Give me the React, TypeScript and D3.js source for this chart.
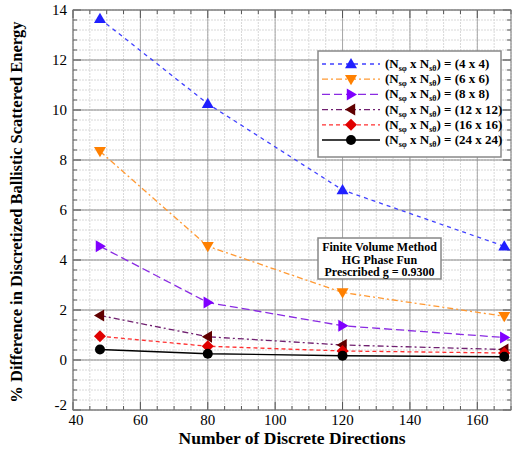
import React from "react";
import * as d3 from "d3";

const directions = [48, 80, 120, 168];
const s4 = [13.65, 10.25, 6.8, 4.55];
const s6 = [8.35, 4.55, 2.7, 1.75];
const s8 = [4.55, 2.3, 1.37, 0.9];
const s12 = [1.78, 0.93, 0.6, 0.42];
const s16 = [0.95, 0.55, 0.36, 0.28];
const s24 = [0.42, 0.25, 0.17, 0.13];
const legendSizes = ["4 x 4", "6 x 6", "8 x 8", "12 x 12", "16 x 16", "24 x 24"];
const xTicks = [40, 60, 80, 100, 120, 140, 160];
const yTicks = [-2, 0, 2, 4, 6, 8, 10, 12, 14];
const noteLines = ["Finite Volume Method", "HG Phase Fun", "Prescribed g = 0.9300"];

const series = [
  { values: s4, line: "#4040ff", marker: "#2020ff", dash: "4,4", shape: "up" },
  { values: s6, line: "#ff9933", marker: "#ff8000", dash: "6,3,2,3", shape: "down" },
  { values: s8, line: "#8a2be2", marker: "#8000ff", dash: "8,4", shape: "right" },
  { values: s12, line: "#702070", marker: "#600000", dash: "6,3,2,3", shape: "left" },
  { values: s16, line: "#ff3030", marker: "#e00000", dash: "4,3", shape: "diamond" },
  { values: s24, line: "#000000", marker: "#000000", dash: "", shape: "circle" },
];

const font = '"Liberation Serif", Tinos, "Times New Roman", "DejaVu Serif", serif';

function Marker({ shape, x, y, color }: { shape: string; x: number; y: number; color: string }) {
  const r = 6;
  let d = "";
  if (shape === "circle") return <circle cx={x} cy={y} r={5} fill={color} />;
  if (shape === "up") d = `M${x},${y - r} L${x + r},${y + r * 0.7} L${x - r},${y + r * 0.7}Z`;
  if (shape === "down") d = `M${x},${y + r} L${x + r},${y - r * 0.7} L${x - r},${y - r * 0.7}Z`;
  if (shape === "right") d = `M${x + r},${y} L${x - r * 0.7},${y - r} L${x - r * 0.7},${y + r}Z`;
  if (shape === "left") d = `M${x - r},${y} L${x + r * 0.7},${y - r} L${x + r * 0.7},${y + r}Z`;
  if (shape === "diamond") d = `M${x},${y - r} L${x + r},${y} L${x},${y + r} L${x - r},${y}Z`;
  return <path d={d} fill={color} />;
}

export default function App() {
  const W = 514, H = 454;
  const left = 73, right = 511, top = 10, bottom = 410;
  const x = d3.scaleLinear().domain([40, 170]).range([left, right]);
  const y = d3.scaleLinear().domain([-2, 14]).range([bottom, top]);
  const line = d3.line<number>().x((_, i) => x(directions[i])).y((v) => y(v));

  const xMinor = d3.range(40, 171, 5);
  const yMinor = d3.range(-2, 14.01, 0.4);

  const legX = 318, legY = 51, legW = 183, legH = 106;
  const rowH = 15.2;

  return (
    <svg width={W} height={H} style={{ position: "absolute", left: 0, top: 0, background: "#fff", fontFamily: font }}>
      {xMinor.map((v) => (
        <line key={"xm" + v} x1={x(v)} x2={x(v)} y1={top} y2={bottom} stroke="#d8d8d8" strokeWidth={1} strokeDasharray="2,1" />
      ))}
      {yMinor.map((v, i) => (
        <line key={"ym" + i} x1={left} x2={right} y1={y(v)} y2={y(v)} stroke="#d8d8d8" strokeWidth={1} strokeDasharray="2,1" />
      ))}
      {xTicks.map((v) => (
        <line key={"xM" + v} x1={x(v)} x2={x(v)} y1={top} y2={bottom} stroke="#a8a8a8" strokeWidth={1} />
      ))}
      {yTicks.map((v) => (
        <line key={"yM" + v} x1={left} x2={right} y1={y(v)} y2={y(v)} stroke="#8c8c8c" strokeWidth={1} />
      ))}
      {xMinor.map((v) => (
        <g key={"xt" + v}>
          <line x1={x(v)} x2={x(v)} y1={bottom} y2={bottom - (v % 20 === 0 ? 8 : 4)} stroke="#555" />
          <line x1={x(v)} x2={x(v)} y1={top} y2={top + (v % 20 === 0 ? 8 : 4)} stroke="#555" />
        </g>
      ))}
      {yMinor.map((v, i) => (
        <g key={"yt" + i}>
          <line x1={left} x2={left + (i % 5 === 0 ? 8 : 4)} y1={y(v)} y2={y(v)} stroke="#555" />
          <line x1={right} x2={right - (i % 5 === 0 ? 8 : 4)} y1={y(v)} y2={y(v)} stroke="#555" />
        </g>
      ))}
      <rect x={left} y={top} width={right - left} height={bottom - top} fill="none" stroke="#777" strokeWidth={1} />

      {xTicks.map((v) => (
        <text key={"xl" + v} x={x(v) + (v === 40 ? 3 : 0)} y={bottom + 15} textAnchor="middle" fontSize={15}>
          {v}
        </text>
      ))}
      {yTicks.map((v) => (
        <text key={"yl" + v} x={left - 6} y={y(v) + (v === -2 ? 0 : 5)} textAnchor="end" fontSize={15}>
          {v}
        </text>
      ))}

      <text x={292} y={444} textAnchor="middle" fontSize={17.5} fontWeight="bold">
        Number of Discrete Directions
      </text>
      <text transform={`translate(22,212) rotate(-90)`} textAnchor="middle" fontSize={16.5} fontWeight="bold">
        % Difference in Discretized Ballistic Scattered Energy
      </text>

      {series.map((s, si) => (
        <g key={"s" + si}>
          <path d={line(s.values) || ""} fill="none" stroke={s.line} strokeWidth={1.3} strokeDasharray={s.dash} />
          {s.values.map((v, i) => (
            <Marker key={i} shape={s.shape} x={x(directions[i])} y={y(v)} color={s.marker} />
          ))}
        </g>
      ))}

      <rect x={legX} y={legY} width={legW} height={legH} fill="#fff" stroke="#888" strokeWidth={1.5} />
      {series.map((s, i) => {
        const cy = legY + 13 + i * rowH;
        return (
          <g key={"lg" + i}>
            <line x1={legX + 4} x2={legX + 62} y1={cy} y2={cy} stroke={s.line} strokeWidth={1.3} strokeDasharray={s.dash} />
            <Marker shape={s.shape} x={legX + 33} y={cy} color={s.marker} />
            <text x={legX + 67} y={cy + 4} fontSize={13} fontWeight="bold">
              (N<tspan fontSize={8} dy={3}>sφ</tspan>
              <tspan dy={-3}> x N</tspan>
              <tspan fontSize={8} dy={3}>sθ</tspan>
              <tspan dy={-3}>{`) = (${legendSizes[i]})`}</tspan>
            </text>
          </g>
        );
      })}

      <rect x={318} y={238} width={123} height={41} fill="#fff" stroke="#888" strokeWidth={1.5} />
      {noteLines.map((t, i) => (
        <text key={"n" + i} x={379.5} y={251 + i * 12.5} textAnchor="middle" fontSize={12} fontWeight="bold">
          {t}
        </text>
      ))}
    </svg>
  );
}
